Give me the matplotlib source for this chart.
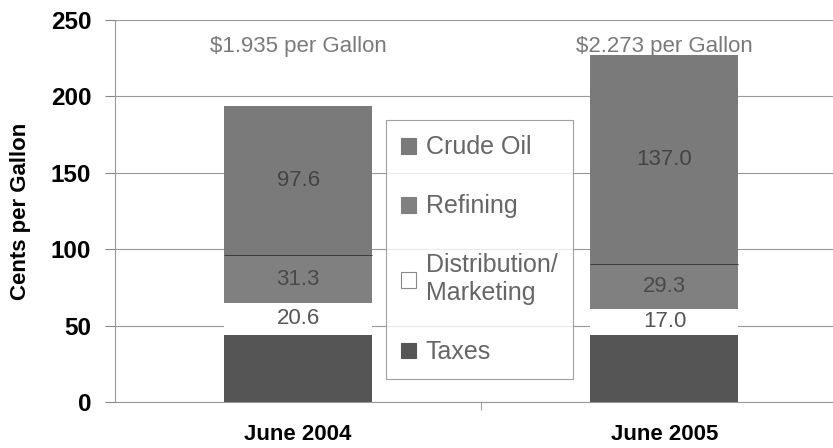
import numpy as np
import matplotlib.pyplot as plt
from matplotlib.patches import Patch

plt.rcParams['font.family'] = ['Liberation Sans', 'DejaVu Sans']

months = ["June 2004", "June 2005"]
prices = ["$1.935 per Gallon", "$2.273 per Gallon"]
taxes = [44.0, 44.0]
distribution = [20.6, 17.0]
refining = [31.3, 29.3]
crude = [97.6, 137.0]

parts = ["Taxes", "Distribution/\nMarketing", "Refining", "Crude Oil"]
colors = ["#555555", "#ffffff", "#808080", "#7a7a7a"]
series = [taxes, distribution, refining, crude]
show_label = [False, True, True, True]
label_colors = ["#444444", "#555555", "#4a4a4a", "#444444"]

fig = plt.figure(figsize=(8.33, 4.48), dpi=100)
ax = fig.add_axes([0.138, 0.103, 0.862, 0.852])

x = np.arange(len(months))
width = 0.404
bottom = np.zeros(len(months))
for vals, col, show, lc in zip(series, colors, show_label, label_colors):
    vals = np.array(vals)
    ax.bar(x, vals, width, bottom=bottom, color=col, linewidth=0, zorder=3)
    if show:
        for xi, b, v in zip(x, bottom, vals):
            ax.text(xi, b + v / 2, f"{v:.1f}", ha="center", va="center",
                    fontsize=16, color=lc, zorder=4)
    bottom = bottom + vals

# thin dividing line between refining and crude
top_refining = np.array(taxes) + np.array(distribution) + np.array(refining)
ax.hlines(top_refining, x - width / 2, x + width / 2, color="#3a3a3a",
          linewidth=0.7, zorder=4)

for xi, p in zip(x, prices):
    ax.text(xi, 233, p, ha="center", va="center", fontsize=16, color="#7a7a7a")

ax.set_ylim(0, 250)
ax.set_xlim(-0.5, 1.46)
ax.set_yticks(range(0, 251, 50))
ax.set_xticks(x)
ax.set_xticklabels(months, fontsize=16, fontweight="bold")
ax.set_xticks([0.5], minor=True)
ax.tick_params(axis="x", which="major", length=0, pad=16)
ax.tick_params(axis="x", which="minor", length=6, color="#888888")
ax.tick_params(axis="y", length=7, color="#888888", labelsize=17.5, pad=10)
for lab in ax.get_yticklabels():
    lab.set_fontweight("bold")
ax.set_ylabel("Cents per Gallon", fontsize=16, fontweight="bold", labelpad=14)

ax.grid(axis="y", color="#999999", linewidth=0.8, zorder=0)
ax.set_axisbelow(True)
for s in ["top", "right"]:
    ax.spines[s].set_visible(False)
ax.spines["left"].set_color("#999999")
ax.spines["left"].set_linewidth(0.8)
ax.spines["bottom"].set_color("#999999")
ax.spines["bottom"].set_linewidth(0.8)

handles = [Patch(facecolor=c, edgecolor="#888888" if c == "#ffffff" else c,
                 linewidth=0.8, label=l)
           for c, l in zip(colors[::-1], parts[::-1])]
leg = ax.legend(handles=handles, loc="upper left", bbox_to_anchor=(0.36, 0.77),
                fontsize=18, frameon=True, fancybox=False, edgecolor="#888888",
                handlelength=0.6, handleheight=0.6, handletextpad=0.4,
                labelspacing=1.4, borderpad=0.6, labelcolor="#666666")
leg.get_frame().set_linewidth(0.8)
leg.set_zorder(5)

fig.savefig("out.png", dpi=100)
